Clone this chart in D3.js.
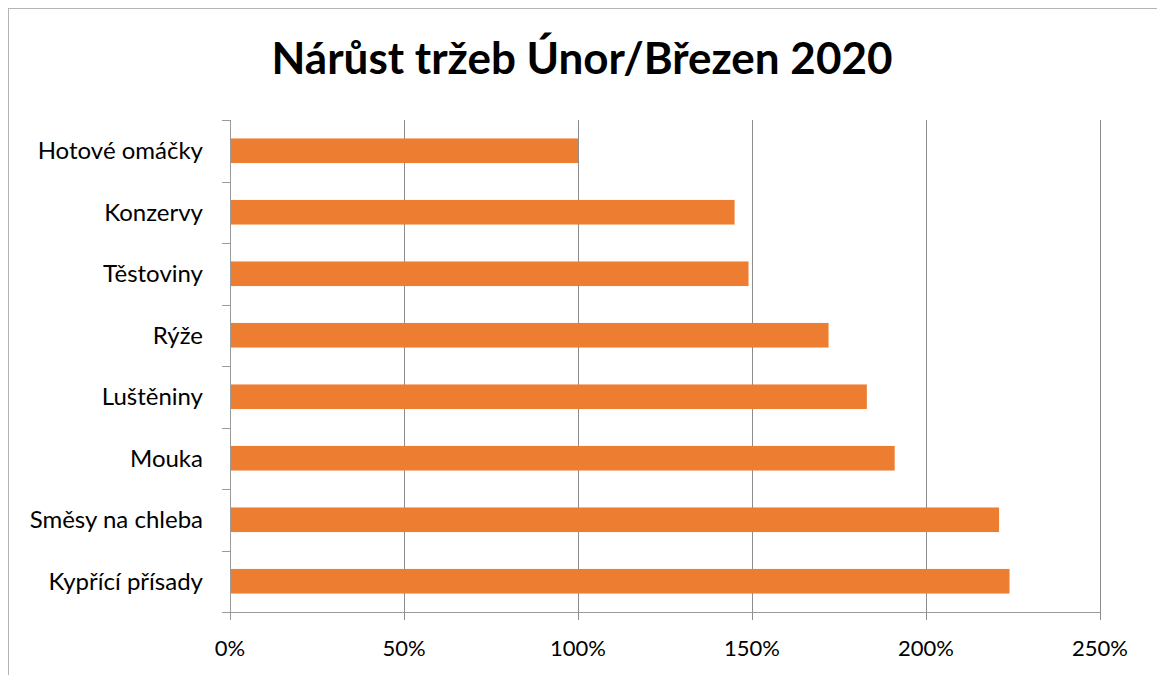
<!DOCTYPE html>
<html>
<head>
<meta charset="utf-8">
<script src="https://cdn.jsdelivr.net/npm/d3@7"></script>
<style>
  body { margin: 0; background: #fff; }
  text { font-family: Lato, "Open Sans", sans-serif; fill: #000; }
</style>
</head>
<body>
<script>
var WIDTH = 1157;
var HEIGHT = 675;

// data
var categories = ["Hotové omáčky", "Konzervy", "Těstoviny", "Rýže", "Luštěniny", "Mouka", "Směsy na chleba", "Kypřící přísady"];
var growth = [1.00, 1.45, 1.49, 1.72, 1.83, 1.91, 2.21, 2.24];
var xTicks = [0, 0.5, 1, 1.5, 2, 2.5];
var title = "Nárůst tržeb Únor/Březen 2020";

var svg = d3.select("body")
  .append("svg")
  .attr("width", WIDTH)
  .attr("height", HEIGHT);

// chart frame
svg.append("rect")
  .attr("x", 8.5).attr("y", 8.5)
  .attr("width", 1160).attr("height", 700)
  .attr("fill", "none")
  .attr("stroke", "#b4b4b4")
  .attr("stroke-width", 1);

var plotLeft = 230, plotRight = 1100, plotTop = 120, plotBottom = 612;

var x = d3.scaleLinear().domain([0, 2.5]).range([plotLeft, plotRight]);
var y = d3.scaleBand().domain(categories).range([plotTop, plotBottom]).paddingInner(0.6).paddingOuter(0.3);
var yEdges = d3.scaleLinear().domain([0, categories.length]).range([plotTop, plotBottom]);

// title
svg.append("text")
  .attr("x", 582)
  .attr("y", 74)
  .attr("text-anchor", "middle")
  .style("font-size", "44px")
  .style("font-weight", "bold")
  .text(title);

// vertical gridlines (with ticks below the axis)
svg.append("g")
  .attr("transform", "translate(0," + plotBottom + ")")
  .call(d3.axisBottom(x).tickValues(xTicks).tickSize(-(plotBottom - plotTop)).tickFormat(""))
  .call(function (g) {
    g.select(".domain").remove();
    g.selectAll("line").attr("stroke", "#8c8c8c").attr("y1", 8);
  });

// x tick labels
svg.append("g")
  .selectAll("text")
  .data(xTicks)
  .enter()
  .append("text")
  .attr("x", function (d) { return x(d); })
  .attr("y", 656)
  .attr("text-anchor", "middle")
  .style("font-size", "22px")
  .text(function (d) { return d3.format(".0%")(d); });

// bars
svg.append("g")
  .selectAll("rect")
  .data(growth)
  .enter()
  .append("rect")
  .attr("x", x(0))
  .attr("y", function (d, i) { return y(categories[i]); })
  .attr("width", function (d) { return x(d) - x(0); })
  .attr("height", y.bandwidth())
  .attr("fill", "#ED7D31");

// category axis line and ticks
svg.append("line")
  .attr("x1", plotLeft + 0.5).attr("x2", plotLeft + 0.5)
  .attr("y1", plotTop).attr("y2", plotBottom + 8)
  .attr("stroke", "#9a9a9a");
svg.append("line")
  .attr("x1", plotLeft).attr("x2", plotRight)
  .attr("y1", plotBottom + 0.5).attr("y2", plotBottom + 0.5)
  .attr("stroke", "#9a9a9a");
svg.append("g")
  .selectAll("line")
  .data(d3.range(categories.length + 1))
  .enter()
  .append("line")
  .attr("x1", plotLeft - 8).attr("x2", plotLeft)
  .attr("y1", function (d) { return Math.round(yEdges(d)) + 0.5; })
  .attr("y2", function (d) { return Math.round(yEdges(d)) + 0.5; })
  .attr("stroke", "#9a9a9a");

// category labels
svg.append("g")
  .selectAll("text")
  .data(categories)
  .enter()
  .append("text")
  .attr("x", 203)
  .attr("y", function (d) { return y(d) + y.bandwidth() / 2; })
  .attr("dy", "0.36em")
  .attr("text-anchor", "end")
  .style("font-size", "24px")
  .text(function (d) { return d; });
</script>
</body>
</html>
